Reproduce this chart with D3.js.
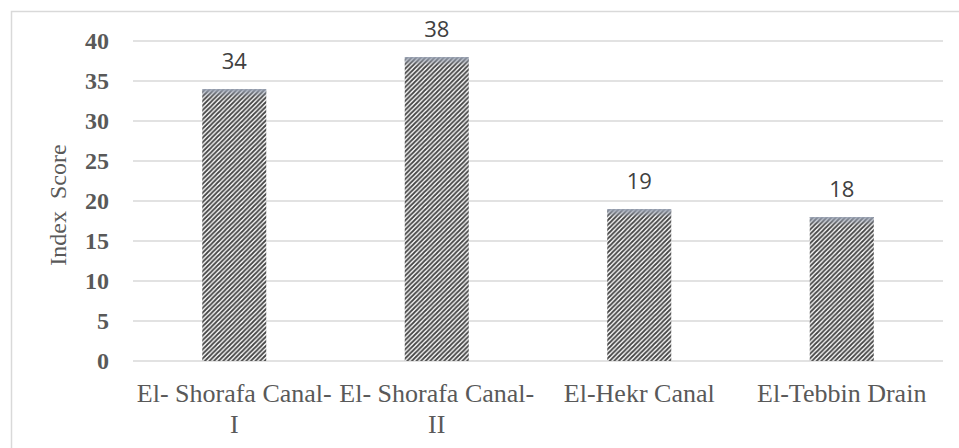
<!DOCTYPE html>
<html><head><meta charset="utf-8">
<script src="https://cdn.jsdelivr.net/npm/d3@7"></script>
<style>body{margin:0;background:#fff}svg{display:block}</style>
</head><body>
<script>
const categories = [["El- Shorafa Canal-","I"],["El- Shorafa Canal-","II"],["El-Hekr Canal"],["El-Tebbin Drain"]];
const values = [34, 38, 19, 18];
const yTicks = [0,5,10,15,20,25,30,35,40];
const yTitle = "Index  Score";

const W=959,H=448;
const svg=d3.select("body").append("svg").attr("width",W).attr("height",H);
const defs=svg.append("defs");
const P=4.6;
const pat=defs.append("pattern").attr("id","hatch").attr("patternUnits","userSpaceOnUse")
  .attr("width",P).attr("height",P);
pat.append("rect").attr("width",P).attr("height",P).attr("fill","#fff");
pat.append("path").attr("d",`M${-P/4},${P/4} l${P/2},${-P/2} M0,${P} l${P},${-P} M${P*0.75},${P*1.25} l${P/2},${-P/2}`)
  .attr("stroke","#454545").attr("stroke-width",1.8);
const grad=defs.append("linearGradient").attr("id","topg").attr("x1",0).attr("y1",0).attr("x2",0).attr("y2",1);
grad.append("stop").attr("offset","0%").attr("stop-color","#9aa3b4").attr("stop-opacity",0.95);
grad.append("stop").attr("offset","100%").attr("stop-color","#9aa3b4").attr("stop-opacity",0);

svg.append("rect").attr("x",11.5).attr("y",11.5).attr("width",W).attr("height",H)
  .attr("fill","none").attr("stroke","#d9d9d9").attr("stroke-width",1.5);

const x=d3.scaleBand().domain(d3.range(categories.length)).range([133,943]).padding(0);
const y=d3.scaleLinear().domain([0,40]).range([361,41]);

const g=svg.append("g");
g.selectAll("line.grid").data(yTicks).join("line").attr("class","grid")
  .attr("x1",133).attr("x2",943).attr("y1",d=>y(d)).attr("y2",d=>y(d))
  .attr("stroke","#d9d9d9").attr("stroke-width",1.6);

g.selectAll("text.yt").data(yTicks).join("text").attr("class","yt")
  .attr("x",109).attr("y",d=>y(d)).attr("dy","0.34em").attr("text-anchor","end")
  .attr("font-family","'Liberation Serif','Times New Roman',serif").attr("font-weight","bold")
  .attr("font-size",24).attr("fill","#595959").text(d=>d);

const bw=x.bandwidth()*0.316;
const bars=g.selectAll("g.bar").data(values).join("g").attr("class","bar");
bars.append("rect").attr("x",(d,i)=>x(i)+x.bandwidth()/2-bw/2).attr("y",d=>y(d))
  .attr("width",bw).attr("height",d=>y(0)-y(d)).attr("fill","url(#hatch)");
bars.append("rect").attr("x",(d,i)=>x(i)+x.bandwidth()/2-bw/2).attr("y",d=>y(d))
  .attr("width",bw).attr("height",8).attr("fill","url(#topg)");

bars.append("text").attr("x",(d,i)=>x(i)+x.bandwidth()/2).attr("y",d=>y(d)-20)
  .attr("text-anchor","middle").attr("font-family","'Open Sans',sans-serif")
  .attr("font-size",22).attr("fill","#404040").text(d=>d);

const xl=g.selectAll("text.xl").data(categories).join("text").attr("class","xl")
  .attr("text-anchor","middle").attr("font-family","'Liberation Serif','Times New Roman',serif")
  .attr("font-size",26).attr("fill","#595959");
xl.each(function(lines,i){
  const t=d3.select(this);
  lines.forEach((l,j)=>t.append("tspan").attr("x",x(i)+x.bandwidth()/2).attr("y",402+j*31).text(l));
});

svg.append("text").attr("transform","translate(66,205) rotate(-90)").attr("text-anchor","middle")
  .attr("font-family","'Liberation Serif','Times New Roman',serif").attr("font-size",24)
  .attr("fill","#595959").attr("xml:space","preserve").style("white-space","pre").text(yTitle);
</script>
</body></html>
